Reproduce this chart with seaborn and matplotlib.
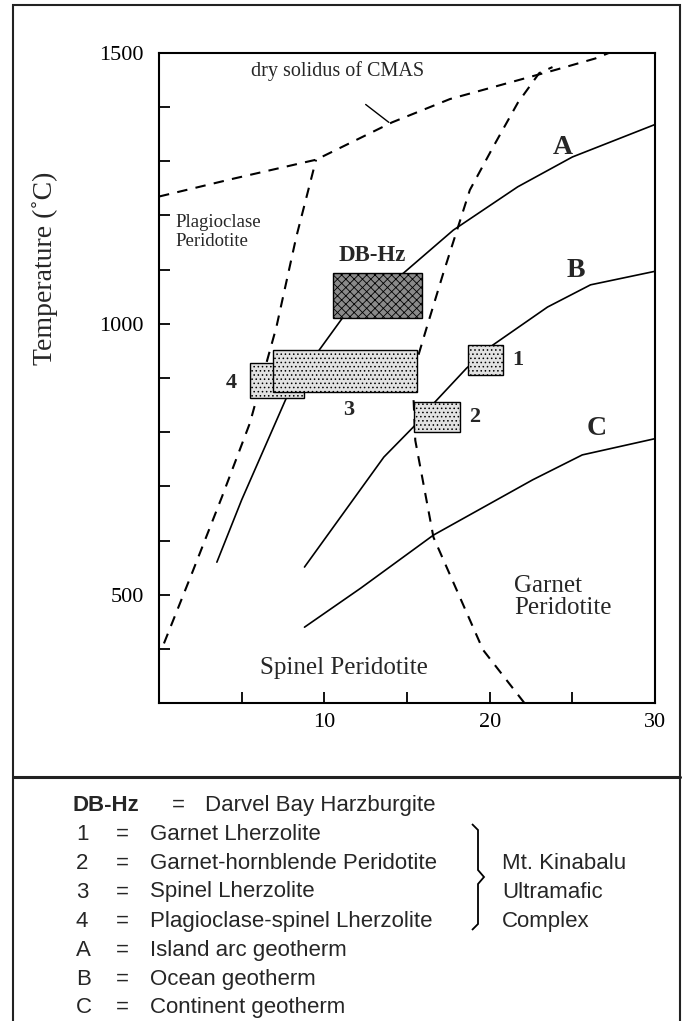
import numpy as np
import pandas as pd
import seaborn as sns
import matplotlib.pyplot as plt
from matplotlib.patches import Rectangle, PathPatch
from matplotlib.path import Path
from matplotlib.lines import Line2D
from matplotlib.ticker import MultipleLocator, FuncFormatter

# P (kbar) - T (C) curves
solidus_p = [0, 4.5, 9.5, 14.1, 17.6, 24.0, 26.4, 27.2]
solidus_t = [1235, 1268, 1303, 1372, 1415, 1469, 1490, 1500]

# garnet / spinel boundary
gs_p = [22.1, 19.6, 16.6, 15.5, 15.4, 15.6, 16.2, 17.2, 18.8, 20.2, 21.7, 23.0, 23.8]
gs_t = [300, 398, 606, 785, 859, 933, 994, 1094, 1247, 1326, 1408, 1463, 1474]

# plagioclase / spinel boundary
ps_p = [0.3, 2.0, 3.8, 5.5, 6.5, 7.1, 8.3, 9.5]
ps_t = [410, 540, 680, 817, 928, 994, 1160, 1303]

# geotherms
a_p = [3.5, 5.0, 7.7, 9.7, 11.1, 14.8, 17.8, 21.7, 25.0, 30.0]
a_t = [560, 675, 863, 952, 1011, 1094, 1173, 1253, 1308, 1368]
b_p = [8.8, 13.6, 15.4, 16.7, 18.6, 20.2, 23.5, 26.1, 30.0]
b_t = [551, 754, 810, 856, 918, 961, 1031, 1072, 1097]
c_p = [8.8, 12.2, 16.6, 22.6, 25.6, 30.0]
c_t = [440, 512, 610, 712, 758, 788]

# P-T boxes
box_names = ['DB-Hz', '4', '3', '1', '2']
box_pmin = [10.5, 5.5, 6.9, 18.7, 15.4]
box_pmax = [15.9, 8.8, 15.6, 20.8, 18.2]
box_tmin = [1011, 863, 874, 905, 800]
box_tmax = [1094, 928, 952, 961, 856]

# legend rows
leg_keys = ['DB-Hz', '1', '2', '3', '4', 'A', 'B', 'C']
leg_desc = ['Darvel Bay Harzburgite', 'Garnet Lherzolite', 'Garnet-hornblende Peridotite',
            'Spinel Lherzolite', 'Plagioclase-spinel Lherzolite', 'Island arc geotherm',
            'Ocean geotherm', 'Continent geotherm']
complex_lines = ['Mt. Kinabalu', 'Ultramafic', 'Complex']

sns.set_theme(style='ticks')
plt.rcParams['font.family'] = ['Liberation Serif', 'DejaVu Serif']
plt.rcParams['hatch.linewidth'] = 0.6

W, H = 693, 1021
fig = plt.figure(figsize=(W / 100, H / 100), dpi=100)
fig.patch.set_facecolor('white')
ax = fig.add_axes([159 / W, 1 - 703 / H, 496 / W, 650 / H])

def curve(p, t, dashed=False):
    df = pd.DataFrame({'P': p, 'T': t})
    kw = dict(linestyle=(0, (5, 4)), lw=1.5) if dashed else dict(lw=1.2)
    sns.lineplot(data=df, x='P', y='T', sort=False, estimator=None, color='black', ax=ax, **kw)

curve(solidus_p, solidus_t, dashed=True)
curve(gs_p, gs_t, dashed=True)
curve(ps_p, ps_t, dashed=True)
curve(a_p, a_t)
curve(b_p, b_t)
curve(c_p, c_t)

# boxes
for i, name in enumerate(box_names):
    dark = name == 'DB-Hz'
    r = Rectangle((box_pmin[i], box_tmin[i]), box_pmax[i] - box_pmin[i], box_tmax[i] - box_tmin[i],
                  facecolor='#8a8a8a' if dark else '#e2e2e2', edgecolor='black',
                  hatch='xxxx' if dark else '....', lw=1.0, zorder=5)
    ax.add_patch(r)

# labels
bold = dict(fontweight='bold', ha='center', va='center')
ax.text(12.9, 1127, 'DB-Hz', fontsize=16.5, **bold)
ax.text(11.5, 841, '3', fontsize=16, **bold)
ax.text(4.4, 891, '4', fontsize=16, **bold)
ax.text(21.7, 933, '1', fontsize=16, **bold)
ax.text(19.1, 828, '2', fontsize=16, **bold)
ax.text(24.4, 1326, 'A', fontsize=20, **bold)
ax.text(25.2, 1098, 'B', fontsize=20, **bold)
ax.text(26.5, 806, 'C', fontsize=20, **bold)

ax.text(10.8, 1466, 'dry solidus of CMAS', fontsize=14.5, ha='center', va='center')
ax.plot([12.5, 13.9], [1405, 1372], color='black', lw=1.0)
ax.text(1.0, 1170, 'Plagioclase\nPeridotite', fontsize=13.5, ha='left', va='center', linespacing=1.15)
ax.text(11.2, 365, 'Spinel Peridotite', fontsize=18, ha='center', va='center')
ax.text(21.5, 495, 'Garnet\nPeridotite', fontsize=18, ha='left', va='center', linespacing=1.0)

ax.set_xlim(0, 30)
ax.set_ylim(300, 1500)
ax.xaxis.set_major_locator(MultipleLocator(5))
ax.yaxis.set_major_locator(MultipleLocator(100))
ax.xaxis.set_major_formatter(FuncFormatter(lambda v, _: f'{v:.0f}' if v % 10 == 0 and v > 0 else ''))
ax.yaxis.set_major_formatter(FuncFormatter(lambda v, _: f'{v:.0f}' if v % 500 == 0 else ''))
ax.tick_params(direction='in', length=8, width=1.3, labelsize=16, colors='black')
ax.tick_params(axis='y', pad=11)
ax.tick_params(axis='x', pad=7)
ax.set_xlabel('')
ax.set_ylabel('Temperature (˚C)', fontsize=20)
ax.yaxis.set_label_coords((58 - 159) / 496, (703 - 268) / 650)
for s in ax.spines.values():
    s.set_visible(True)
    s.set_linewidth(1.5)
    s.set_color('black')
ax.set_facecolor('white')

# outer frame and divider
fig.add_artist(Rectangle((13 / W, -0.01), (680 - 13) / W, 1 - 5 / H + 0.01, transform=fig.transFigure,
                         fill=False, edgecolor='#222222', lw=1.5))
fig.add_artist(Line2D([13 / W, 680 / W], [1 - 777 / H] * 2, color='#222222', lw=2.2))

# legend panel
sans = ['Liberation Sans', 'DejaVu Sans']
fs = 16
rows_y = [805, 834, 863, 892, 921, 950, 979, 1007]
for i, (k, d) in enumerate(zip(leg_keys, leg_desc)):
    y = 1 - rows_y[i] / H
    if k == 'DB-Hz':
        fig.text(72 / W, y, k, family=sans, fontsize=fs, fontweight='bold', va='center')
        fig.text(172 / W, y, '=', family=sans, fontsize=fs, va='center')
        fig.text(205 / W, y, d, family=sans, fontsize=fs, va='center')
    else:
        fig.text(76 / W, y, k, family=sans, fontsize=fs, va='center')
        fig.text(116 / W, y, '=', family=sans, fontsize=fs, va='center')
        fig.text(150 / W, y, d, family=sans, fontsize=fs, va='center')
for j, s in enumerate(complex_lines):
    fig.text(502 / W, 1 - rows_y[2 + j] / H, s, family=sans, fontsize=fs, va='center')

# brace in pixel coords, converted to figure fraction
bx = [472, 478, 478, 484, 478, 478, 472]
by = [824, 830, 870, 877, 884, 924, 930]
verts = [(x / W, 1 - y / H) for x, y in zip(bx, by)]
codes = [Path.MOVETO] + [Path.LINETO] * (len(verts) - 1)
fig.add_artist(PathPatch(Path(verts, codes), transform=fig.transFigure, fill=False, lw=1.3,
                         edgecolor='black'))

fig.savefig('out.png', dpi=100)
